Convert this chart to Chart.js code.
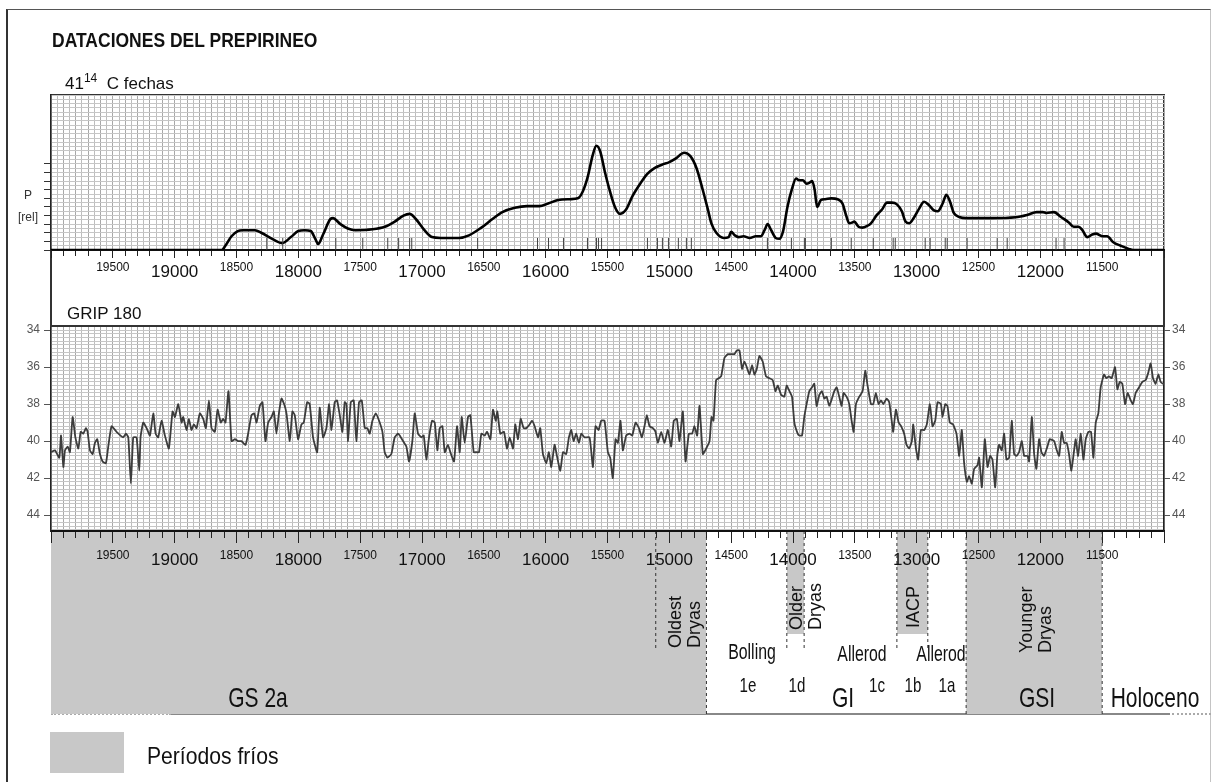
<!DOCTYPE html>
<html lang="es">
<head>
<meta charset="utf-8">
<title>Dataciones del Prepirineo</title>
<script src="https://cdn.jsdelivr.net/npm/chart.js@4.4.1/dist/chart.umd.min.js"></script>
<style>
  html, body { margin:0; padding:0; background:#fff; }
  body { position:relative; width:1211px; height:782px; overflow:hidden;
         font-family:"Liberation Sans", Arial, sans-serif; color:#111; }
  canvas { position:absolute; left:0; }
  #cTop { top:0; z-index:3; }
  #cGrip { top:300px; z-index:4; }
  #cPeriods { top:520px; z-index:2; }
  .box { position:absolute; box-sizing:border-box; }
  .t { position:absolute; white-space:nowrap; line-height:1; z-index:6; }
  .l { transform: translate(0,-50%); transform-origin:left center; }
  .big { font-size:28px; transform: translate(-50%,-50%) scaleX(0.75); }
  .mid { font-size:22px; transform: translate(-50%,-50%) scaleX(0.72); }
  .sub { font-size:21px; transform: translate(-50%,-50%) scaleX(0.72); }
  .rot { font-size:18px; line-height:19px; transform-origin:0 0; transform: rotate(-90deg); }
  .axl { font-size:12px; color:#333; transform: translate(-50%,-50%); }
</style>
</head>
<body>

<div class="box" style="left:6px;top:9px;width:1205px;height:800px;border-top:1px solid #555;border-left:2px solid #333;border-right:1px solid #c4c4c4;"></div>
<div class="box" style="left:50px;top:94px;width:1115px;height:437px;border-left:2px solid #333;border-right:2px solid #333;border-top:2px solid #333;z-index:1;"></div>
<div class="box" style="left:50px;top:325px;width:1115px;height:2px;background:#333;z-index:5;"></div>
<div class="box" style="left:171px;top:713px;width:999px;height:2px;background:#888;"></div>
<div class="box" style="left:51px;top:713px;width:120px;height:0;border-top:2px dotted #aaa;"></div>
<div class="box" style="left:1172px;top:713px;width:39px;height:0;border-top:2px dotted #aaa;"></div>

<canvas id="cTop" width="1211" height="300"></canvas>
<canvas id="cGrip" width="1211" height="290"></canvas>
<canvas id="cPeriods" width="1211" height="210"></canvas>

<div class="t l" style="left:52px;top:41px;font-size:17.5px;font-weight:bold;transform:translate(0,-50%) scaleY(1.12);">DATACIONES DEL PREPIRINEO</div>
<div class="t l" style="left:65px;top:82px;font-size:17px;">41<sup style="font-size:12px;">14</sup>&nbsp;&nbsp;C fechas</div>
<div class="t l" style="left:67px;top:313px;font-size:17px;">GRIP 180</div>
<div class="t axl" style="left:28px;top:195px;">P</div>
<div class="t axl" style="left:28px;top:217px;">[rel]</div>

<div class="t big" style="left:258px;top:698px;">GS 2a</div>
<div class="t big" style="left:843px;top:698px;">GI</div>
<div class="t big" style="left:1037px;top:698px;">GSI</div>
<div class="t big" style="left:1155px;top:698px;">Holoceno</div>
<div class="t mid" style="left:752px;top:652px;">Bolling</div>
<div class="t mid" style="left:862px;top:654px;">Allerod</div>
<div class="t mid" style="left:941px;top:654px;">Allerod</div>
<div class="t sub" style="left:748px;top:684px;">1e</div>
<div class="t sub" style="left:797px;top:684px;">1d</div>
<div class="t sub" style="left:877px;top:684px;">1c</div>
<div class="t sub" style="left:913px;top:684px;">1b</div>
<div class="t sub" style="left:947px;top:684px;">1a</div>
<div class="t rot" style="left:666px;top:648px;">Oldest<br>Dryas</div>
<div class="t rot" style="left:787px;top:630px;">Older<br>Dryas</div>
<div class="t rot" style="left:904px;top:628px;">IACP</div>
<div class="t rot" style="left:1017px;top:653px;">Younger<br>Dryas</div>

<div class="box" style="left:50px;top:732px;width:74px;height:41px;background:#c8c8c8;"></div>
<div class="t l" style="left:147px;top:756px;font-size:24px;transform:translate(0,-50%) scaleX(0.88);">Períodos fríos</div>

<script>
// Summed probability of the 14C dates (cal BP) and relative probability
const probYears = [20000,18620,18590,18540,18490,18450,18350,18300,18200,18130,
  18060,18000,17950,17900,17860,17840,17800,17740,17720,17660,
  17600,17540,17400,17300,17220,17150,17100,17050,16980,16920,
  16850,16700,16620,16520,16430,16350,16250,16150,16050,15980,
  15900,15800,15740,15700,15660,15620,15590,15560,15520,15480,
  15440,15400,15350,15300,15240,15180,15120,15060,15000,14950,
  14880,14830,14780,14730,14690,14660,14620,14560,14520,14500,
  14470,14440,14400,14350,14300,14260,14230,14205,14180,14140,
  14110,14080,14045,14010,13975,13950,13920,13890,13868,13845,
  13825,13805,13775,13740,13690,13640,13600,13570,13545,13520,
  13505,13470,13440,13400,13370,13320,13280,13240,13200,13160,
  13120,13090,13060,13020,12980,12940,12900,12860,12830,12790,
  12760,12730,12700,12650,12600,12400,12200,12100,12030,11980,
  11950,11890,11830,11770,11730,11690,11660,11620,11580,11550,
  11500,11460,11410,11350,11280,11250,11000];
const probValues = [0,0,0.5,1.6,2.2,2.3,2.3,2.0,1.2,0.8,
  1.5,2.2,2.3,2.2,1.2,0.7,1.8,3.6,3.7,3.0,
  2.5,2.3,2.4,2.7,3.3,4.0,4.2,3.6,2.3,1.5,
  1.4,1.4,1.7,2.6,3.6,4.4,4.9,5.1,5.1,5.4,
  5.8,5.9,6.0,6.8,8.5,11.0,12.1,11.5,9.0,6.8,
  5.0,4.2,4.7,6.2,7.6,8.8,9.5,9.9,10.2,10.6,
  11.3,10.9,9.5,7.0,4.8,3.1,2.0,1.4,1.5,2.1,
  1.7,1.5,1.6,1.4,1.6,1.6,2.3,3.0,2.4,1.4,
  1.3,2.2,5.0,7.0,8.3,8.1,8.1,7.7,7.8,8.0,
  7.0,5.0,5.8,5.9,6.0,5.9,5.4,4.0,3.1,3.2,
  3.3,2.7,2.6,2.8,3.1,4.1,4.7,5.5,5.5,5.3,
  4.5,3.3,3.1,3.8,4.8,5.6,5.2,4.6,4.5,5.4,
  6.4,5.6,4.3,3.8,3.7,3.7,3.8,4.1,4.4,4.4,
  4.3,4.4,3.8,3.2,2.7,2.7,2.3,1.5,1.8,1.9,
  1.6,1.6,0.9,0.5,0.1,0,0];

// Individual calibrated 14C dates (41)
const dateYears = [18255,18126,17697,17479,17277,17189,17100,17083,16550,16066,
  15977,15856,15662,15589,15573,15548,15177,15096,15056,15007,
  14927,14862,14822,14207,14013,13908,13900,13690,13529,13351,
  13190,13173,12931,12891,12769,12753,12592,12349,12268,11873,
  11808];

// GRIP oxygen isotope record (cal BP, -δ18O ‰)
const gripYears = [20000,19968,19933,19919,19900,19887,19865,19847,19825,19803,
  19779,19760,19739,19717,19704,19685,19663,19645,19626,19604,
  19583,19556,19537,19510,19470,19416,19394,19375,19354,19335,
  19308,19286,19276,19254,19227,19200,19173,19154,19133,19106,
  19079,19047,19017,18998,18971,18944,18931,18904,18885,18864,
  18845,18823,18796,18769,18748,18723,18702,18675,18653,18627,
  18608,18589,18565,18540,18513,18487,18460,18427,18406,18379,
  18357,18338,18312,18290,18266,18244,18217,18198,18177,18155,
  18136,18115,18096,18069,18048,18029,18002,17975,17956,17929,
  17908,17881,17848,17827,17800,17773,17751,17732,17706,17687,
  17665,17644,17625,17611,17598,17576,17552,17531,17509,17487,
  17463,17442,17423,17401,17374,17347,17320,17302,17280,17248,
  17221,17194,
  17180,17153,17126,17105,17078,17059,17032,17005,16986,16965,
  16943,16919,16897,16876,16857,16835,16816,16790,16771,16741,
  16717,16695,16679,16655,16628,16609,16582,16561,16539,16520,
  16493,16474,16447,16426,16404,16391,16367,16337,16313,16291,
  16264,16246,16224,16202,16178,16157,16130,16111,16089,16062,
  16044,16022,15995,15974,15955,15928,15909,15882,15860,15834,
  15812,15793,15774,15753,15731,15712,15685,15645,15618,15597,
  15572,15551,15524,15497,15478,15457,15435,15416,15395,15376,
  15349,15322,15300,15273,15246,15222,15201,15182,15160,15133,
  15112,15093,15066,15039,15012,14985,14964,14939,14918,14891,
  14869,14842,14816,14797,14775,14756,14729,14702,14675,14659,
  14643,14622,14600,14581,14554,14527,14501,14474,14455,14433,
  14412,14393,14374,14352,14331,14312,14293,14272,14245,14218,
  14191,14164,14142,14123,14096,14070,14051,14029,14008,13989,
  13962,
  13949,13927,13909,13890,13868,13847,13828,13809,13787,13766,
  13747,13728,13707,13685,13666,13647,13626,13607,13591,13567,
  13545,13526,13510,13491,13464,13437,13416,13397,13370,13351,
  13330,13308,13289,13270,13243,13222,13200,13190,13168,13146,
  13125,13101,13082,13060,13039,13028,13006,12988,12966,12939,
  12918,12893,12872,12850,12831,12804,12791,12769,12751,12732,
  12705,12678,12656,12635,12616,12594,12576,12554,12535,12508,
  12495,12473,12449,12427,12406,12387,12365,12347,12333,12312,
  12293,12274,12252,12231,12212,12193,12172,12150,12131,12104,
  12091,12069,12050,12032,12010,11991,11970,11943,11924,11889,
  11867,11848,11827,11808,11787,11768,11749,11727,11714,11695,
  11673,11652,11633,11611,11590,11571,11552,11531,11512,11485,
  11466,11445,11423,11396,11377,11358,11337,11315,11294,11269,
  11251,11229,11202,11175,11148,11127,11108,11089,11068,11046,
  11027,11008,11000];
const gripValues = [40.6,40.5,40.9,39.7,41.4,40.5,40.3,40.6,38.7,39.8,
  40.4,39.5,39.6,39.3,39.5,40.5,40.7,40.1,39.9,40.7,
  41.1,41.2,40.3,39.2,39.5,39.8,39.6,39.8,42.3,39.8,
  39.8,41.6,39.8,39.0,39.3,39.7,38.5,39.6,39.8,38.9,
  39.7,40.4,38.4,38.7,38.0,39.0,38.7,39.4,38.8,39.4,
  39.1,39.3,38.5,38.8,39.3,37.8,39.3,39.5,38.3,39.0,
  38.8,39.0,37.3,40.0,39.9,40.0,40.0,40.2,39.6,38.6,
  38.5,39.0,38.1,37.9,40.0,39.0,38.7,38.4,39.6,38.4,
  37.7,38.0,38.5,40.0,38.4,38.6,39.9,39.1,39.0,37.9,
  38.0,39.8,40.6,38.2,39.8,39.3,38.0,39.4,37.9,37.8,
  38.6,39.5,37.9,38.0,40.0,37.9,37.8,40.0,37.9,37.8,
  39.3,39.3,39.6,38.9,38.5,38.9,39.5,40.6,40.9,40.7,
  39.8,39.6,
  39.7,40.0,40.3,41.1,40.0,38.5,39.6,39.8,39.7,41.0,
  39.8,38.9,39.0,40.5,39.3,39.2,40.6,40.2,40.6,41.1,
  39.2,40.6,38.7,40.1,38.7,38.6,40.6,40.6,40.6,39.6,
  39.7,39.5,39.9,38.3,38.9,38.4,39.6,39.5,40.4,39.8,
  40.4,39.1,39.9,38.8,39.3,39.3,39.1,38.9,39.2,39.8,
  39.3,40.7,41.2,40.6,41.4,40.2,40.8,41.6,40.6,40.7,
  39.8,39.4,40.0,39.6,40.1,39.6,39.8,39.8,41.4,39.2,
  39.4,38.9,38.9,40.6,40.9,42.0,39.9,40.1,38.9,40.5,
  39.7,39.6,39.7,39.0,39.3,39.8,39.2,38.6,39.2,39.3,
  39.5,40.1,39.5,40.1,39.4,40.3,38.9,38.8,40.0,38.4,
  41.1,39.6,39.6,39.2,39.7,38.1,40.7,40.4,40.0,38.7,
  38.9,36.7,36.6,36.5,35.5,35.3,35.3,35.3,35.1,35.1,
  36.1,35.7,36.0,36.4,35.9,36.4,36.1,35.4,35.7,36.5,
  36.6,36.7,37.3,37.0,37.5,37.6,37.0,37.3,37.6,39.0,
  39.6,
  39.7,39.7,38.7,38.0,37.3,37.1,36.9,38.1,37.5,37.3,
  37.7,37.6,38.1,37.7,37.3,37.1,37.6,38.1,37.4,37.6,
  38.0,38.9,39.5,38.0,37.6,37.3,36.2,37.0,38.0,38.0,
  37.4,38.0,37.8,38.0,37.7,37.9,39.0,39.5,38.3,39.0,
  39.2,39.6,40.2,40.4,40.0,39.1,40.4,41.0,39.4,39.4,
  39.1,38.0,39.2,38.9,37.9,38.0,38.7,38.0,38.1,39.0,
  39.1,39.6,40.8,39.4,41.2,42.2,41.9,42.3,41.5,41.3,
  40.9,42.5,39.9,41.4,40.8,41.0,42.5,40.7,40.2,40.5,
  39.6,41.0,40.9,38.9,40.7,40.8,40.6,40.0,40.8,40.8,
  41.1,38.7,40.7,41.5,39.9,40.6,40.8,40.3,39.9,40.0,
  40.5,40.8,39.5,40.1,40.1,40.7,41.6,40.5,39.9,40.8,
  39.6,41.0,39.9,39.5,39.5,40.9,39.0,38.5,37.1,36.4,
  36.6,36.5,36.6,36.0,37.2,36.8,36.9,38.0,37.4,37.8,
  38.0,37.4,37.1,36.8,36.7,36.3,35.8,36.6,36.9,36.4,
  36.8,36.9,36.9];

// Cold periods (cal BP); short events only fill the upper band
const coldNames = ['GS 2a', 'Older Dryas', 'IACP', 'GSI'];
const coldStart = [20000, 14050, 13160, 12600];
const coldEnd   = [14700, 13910, 12910, 11500];
const coldShortEvent = [false, true, true, false];

// Period boundaries (cal BP); full ones cross the whole band
const boundaryYears = [15110, 14700, 14050, 13910, 13160, 12910, 12600, 11500];
const boundaryFull  = [false, true, false, false, false, false, true, true];

const FONT = '"Liberation Sans", Arial, sans-serif';
const CLEAR = 'rgba(0,0,0,0)';
const GREY = '#c8c8c8';
Chart.defaults.font.family = FONT;

const tickVal = c => (c && c.tick) ? c.tick.value : NaN;

function yearTicks(scale) {
  const t = [];
  for (let v = 11000; v <= 20000; v += 50) t.push({ value: v });
  scale.ticks = t;
}

function yearAxis(tickLen, shortTick, padding, height) {
  return {
    type: 'linear', reverse: true, min: 11000, max: 20000,
    afterBuildTicks: yearTicks,
    afterFit: s => { s.height = height; },
    border: { display: true, color: '#111', width: 2 },
    grid: {
      color: c => tickVal(c) % 100 === 0 ? '#a8a8a8' : '#bdbdbd',
      lineWidth: 1, drawTicks: true, tickLength: tickLen, tickWidth: 1,
      tickColor: c => tickVal(c) % 100 === 0 ? '#222' : CLEAR,
      tickBorderDash: c => tickVal(c) % 500 === 0 ? [] : [shortTick, 40]
    },
    ticks: {
      autoSkip: false, maxRotation: 0, minRotation: 0, padding: padding, color: '#111',
      callback: v => (v % 500 === 0 && v > 11000 && v < 20000) ? String(v) : '',
      font: c => tickVal(c) % 1000 === 0
        ? { family: FONT, size: 17, lineHeight: 1.5 }
        : { family: FONT, size: 12, lineHeight: 1.2 }
    }
  };
}

const baseOpts = {
  responsive: false, animation: false, events: [], devicePixelRatio: 1,
  plugins: { legend: { display: false }, tooltip: { enabled: false } }
};

// Panel 1: summed probability of the 14C dates
new Chart(document.getElementById('cTop'), {
  type: 'line',
  data: {
    datasets: [
      {
        data: probYears.map((x, i) => ({ x: x, y: probValues[i] })),
        borderColor: '#000', borderWidth: 2.6, pointRadius: 0,
        cubicInterpolationMode: 'monotone', fill: false, order: 1
      },
      {
        type: 'scatter',
        data: dateYears.map(x => ({ x: x, y: 0.7 })),
        pointStyle: 'line', rotation: 90, pointRadius: 6,
        borderColor: '#444', pointBorderColor: '#444', borderWidth: 1, order: 0
      }
    ]
  },
  options: Object.assign({}, baseOpts, {
    layout: { padding: { top: 95, right: 47, left: 0, bottom: 0 } },
    scales: {
      x: yearAxis(8, 5, 2, 50),
      y: {
        min: 0, max: 18,
        afterBuildTicks: s => { const t = []; for (let k = 0; k <= 36; k++) t.push({ value: k / 2 }); s.ticks = t; },
        afterFit: s => { s.width = 51; },
        border: { display: true, color: '#222', width: 1.5 },
        ticks: { display: false, autoSkip: false },
        grid: {
          color: '#c6c6c6', lineWidth: 1, tickLength: 7,
          tickColor: c => { const v = tickVal(c); return (Number.isInteger(v) && v <= 10) ? '#333' : CLEAR; }
        }
      }
    }
  })
});

// Panel 2: GRIP isotope curve
const isLabelled = v => Math.abs(v - Math.round(v)) < 1e-6 && Math.round(v) % 2 === 0;
function gripTicks(s) {
  const t = [];
  for (let k = Math.ceil(s.min * 5); k <= Math.floor(s.max * 5); k++) t.push({ value: k / 5 });
  s.ticks = t;
}
function gripAxis(position, width, tickLen, padding, onArea) {
  return {
    position: position, reverse: true, min: 33.78, max: 44.86,
    afterBuildTicks: gripTicks,
    afterFit: s => { s.width = width; },
    border: { display: true, color: '#222', width: 1.5 },
    grid: {
      drawOnChartArea: onArea, color: '#c6c6c6', lineWidth: 1, tickLength: tickLen,
      tickColor: c => isLabelled(tickVal(c)) ? '#555' : CLEAR
    },
    ticks: {
      autoSkip: false, padding: padding, color: '#555', font: { family: FONT, size: 12 },
      callback: v => isLabelled(v) ? String(Math.round(v)) : ''
    }
  };
}

new Chart(document.getElementById('cGrip'), {
  type: 'line',
  data: {
    datasets: [{
      data: gripYears.map((x, i) => ({ x: x, y: gripValues[i] })),
      borderColor: '#3c3c3c', borderWidth: 1.8, pointRadius: 0, tension: 0.15, fill: false,
      yAxisID: 'y'
    }]
  },
  options: Object.assign({}, baseOpts, {
    layout: { padding: { top: 26, right: 0, left: 0, bottom: 0 } },
    scales: {
      x: yearAxis(12, 6, 5, 59),
      y: gripAxis('left', 51, 7, 4, true),
      y2: gripAxis('right', 47, 6, 2, false)
    }
  })
});

// Panel 3: cold periods and boundaries
const periodSets = [];
coldNames.forEach((name, i) => {
  periodSets.push({
    label: name,
    data: [{ x: coldStart[i], y: 1 }, { x: coldEnd[i], y: 1 }],
    fill: { value: coldShortEvent[i] ? 0.437 : 0 },
    backgroundColor: GREY, borderColor: CLEAR, borderWidth: 0, pointRadius: 0, order: 2
  });
});
boundaryYears.forEach((yr, i) => {
  periodSets.push({
    data: [{ x: yr, y: 1 }, { x: yr, y: boundaryFull[i] ? 0 : 0.35 }],
    fill: false, borderColor: '#333', borderWidth: 1, borderDash: [3, 3],
    pointRadius: 0, order: 1
  });
});

new Chart(document.getElementById('cPeriods'), {
  type: 'line',
  data: { datasets: periodSets },
  options: Object.assign({}, baseOpts, {
    layout: { padding: { top: 11, right: 47, left: 51, bottom: 16 } },
    scales: {
      x: { type: 'linear', reverse: true, min: 11000, max: 20000, display: false },
      y: { min: 0, max: 1, display: false }
    }
  })
});
</script>
</body>
</html>
